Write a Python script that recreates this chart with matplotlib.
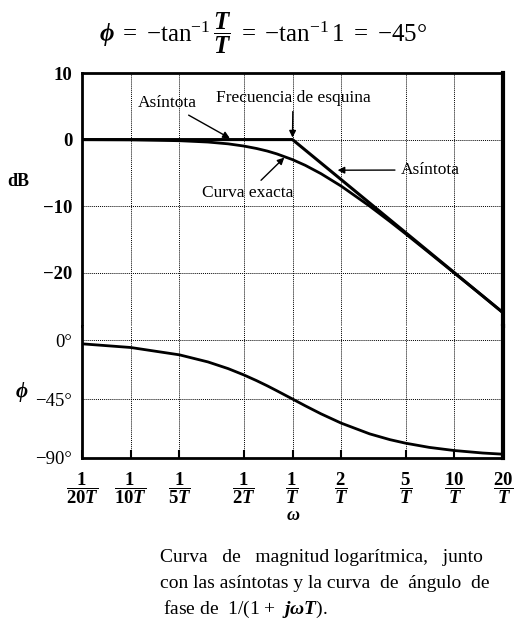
import matplotlib
matplotlib.use('Agg')
import matplotlib.pyplot as plt
from matplotlib.ticker import NullLocator

plt.rcParams['font.family'] = ['Liberation Serif', 'DejaVu Serif']
plt.rcParams['mathtext.fontset'] = 'custom'
plt.rcParams['mathtext.rm'] = 'Liberation Serif'
plt.rcParams['mathtext.it'] = 'Liberation Serif:italic:bold'
plt.rcParams['mathtext.bf'] = 'Liberation Serif:bold'

# frecuencias (en unidades de 1/T)
w = [0.05, 0.1, 0.2, 0.3, 0.4, 0.5, 0.6, 0.7, 0.8, 1, 1.2, 1.5, 2, 3, 4, 5, 7, 10, 15, 20]
# curva exacta de magnitud (dB)
mag_db = [-0.01, -0.04, -0.17, -0.37, -0.64, -0.97, -1.34, -1.73, -2.15, -3.01,
          -3.87, -5.12, -6.99, -10.0, -12.3, -14.15, -17.0, -20.04, -23.5, -26.0]
# curva de angulo de fase (grados)
phase = [-2.9, -5.7, -11.3, -16.7, -21.8, -26.6, -31.0, -35.0, -38.7, -45.0,
         -50.2, -56.3, -63.4, -71.6, -76.0, -78.7, -81.9, -84.3, -86.2, -87.1]
# asintotas
asym_w = [0.05, 1, 20]
asym_db = [0, 0, -26]

w_ticks = [0.05, 0.1, 0.2, 0.5, 1, 2, 5, 10, 20]
w_labels = [r'$\dfrac{\mathbf{1}}{\mathbf{20}T}$', r'$\dfrac{\mathbf{1}}{\mathbf{10}T}$',
            r'$\dfrac{\mathbf{1}}{\mathbf{5}T}$', r'$\dfrac{\mathbf{1}}{\mathbf{2}T}$',
            r'$\dfrac{\mathbf{1}}{T}$', r'$\dfrac{\mathbf{2}}{T}$', r'$\dfrac{\mathbf{5}}{T}$',
            r'$\dfrac{\mathbf{10}}{T}$', r'$\dfrac{\mathbf{20}}{T}$']
db_ticks = [10, 0, -10, -20]
db_labels = ['10', '0', '\u221210', '\u221220']
ph_ticks = [0, -45, -90]
ph_labels = ['0\u00b0', '\u221245\u00b0', '\u221290\u00b0']

W, H = 529, 637
fig = plt.figure(figsize=(W / 100, H / 100), dpi=100)
L, R = 82 / W, 503 / W
top, mid, bot = 1 - 73 / H, 1 - 326 / H, 1 - 458 / H
ax1 = fig.add_axes([L, mid, R - L, top - mid])
ax2 = fig.add_axes([L, bot, R - L, mid - bot], sharex=ax1)

for ax in (ax1, ax2):
    ax.set_xscale('log')
    ax.set_xlim(0.05, 20)
    ax.xaxis.set_minor_locator(NullLocator())
    ax.set_xticks(w_ticks)
    ax.grid(True, linestyle=(0, (1, 1)), color='black', linewidth=0.7)
    ax.tick_params(axis='y', length=0, pad=7, labelsize=13.5)

ax1.set_ylim(-28, 10)
ax1.set_yticks(db_ticks)
ax1.set_yticklabels(db_labels, fontweight='bold')
ax1.tick_params(axis='x', length=0, labelbottom=False)
ax1.spines['bottom'].set_visible(False)

ax2.set_ylim(-90, 10.7)
ax2.set_yticks(ph_ticks)
ax2.set_yticklabels(ph_labels)
ax2.set_xticklabels(w_labels, fontsize=13.5)
ax2.tick_params(axis='x', direction='in', length=6, width=1.5, pad=9)
ax2.spines['top'].set_visible(False)

for ax in (ax1, ax2):
    for s in ('left', 'top', 'bottom'):
        ax.spines[s].set_linewidth(2)
    ax.spines['right'].set_linewidth(3)

ax1.plot(asym_w, asym_db, color='black', linewidth=2.2, solid_capstyle='butt')
ax1.plot(w, mag_db, color='black', linewidth=2)
ax2.plot(w, phase, color='black', linewidth=2)

arrow = dict(arrowstyle='-|>', color='black', linewidth=1, mutation_scale=10,
             shrinkA=2, shrinkB=0)
ax1.annotate('Asíntota', xy=(0.41, 0.2), xytext=(167 / W, 1 - 103 / H),
             textcoords='figure fraction', ha='center', va='center', fontsize=12.5,
             arrowprops=arrow)
ax1.annotate('Frecuencia de esquina', xy=(1, 0.3), xytext=(293 / W, 1 - 98 / H),
             textcoords='figure fraction', ha='center', va='center', fontsize=12.5,
             arrowprops=arrow)
ax1.annotate('Asíntota', xy=(1.9, -4.6), xytext=(430 / W, 1 - 170 / H),
             textcoords='figure fraction', ha='center', va='center', fontsize=12.5,
             arrowprops=arrow)
ax1.annotate('Curva exacta', xy=(0.89, -2.7), xytext=(248 / W, 1 - 193 / H),
             textcoords='figure fraction', ha='center', va='center', fontsize=12.5,
             arrowprops=arrow)

fig.text(18 / W, 1 - 181 / H, 'dB', ha='center', va='center', fontsize=13,
         fontweight='bold')
fig.text(22 / W, 1 - 392 / H, r'$\phi$', ha='center', va='center', fontsize=15)
fig.text(293 / W, 1 - 516 / H, r'$\omega$', ha='center', va='center', fontsize=13)

fig.text(263 / W, 1 - 33 / H,
         r'$\phi\;=\;{-}\mathrm{tan}^{-1}\,\dfrac{T}{T}\;=\;{-}\mathrm{tan}^{-1}\,1\;=\;{-}45\degree$',
         ha='center', va='center', fontsize=18)

fig.text(160 / W, 1 - 558 / H, 'Curva   de   magnitud logarítmica,   junto',
         ha='left', va='center', fontsize=14)
fig.text(160 / W, 1 - 584 / H, 'con las asíntotas y la curva  de  ángulo  de',
         ha='left', va='center', fontsize=14)
fig.text(163 / W, 1 - 609 / H, r'fase de  1/(1 +  $jωT$).',
         ha='left', va='center', fontsize=14)

fig.savefig('out.png', dpi=100)
